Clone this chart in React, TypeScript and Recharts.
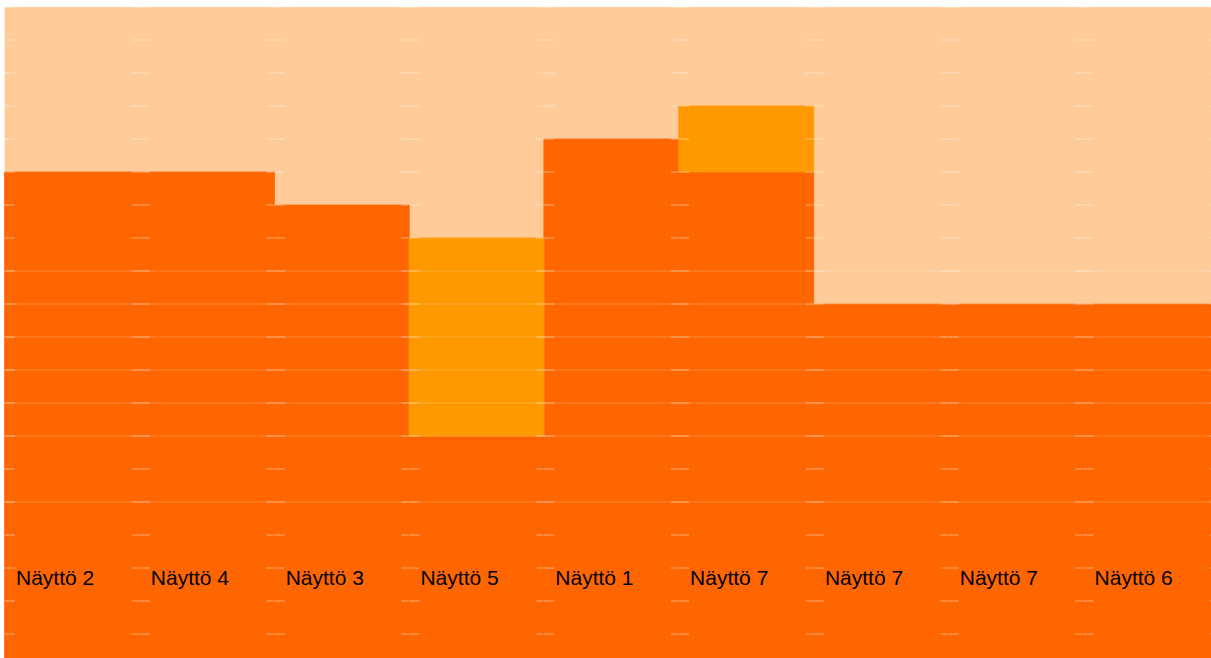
import React from "react";
import { BarChart, Bar, XAxis, YAxis, CartesianGrid, ReferenceLine, LabelList } from "recharts";

const categories = ["Näyttö 2", "Näyttö 4", "Näyttö 3", "Näyttö 5", "Näyttö 1", "Näyttö 7", "Näyttö 7", "Näyttö 7", "Näyttö 6"];
const darkValues = [15, 15, 14, 7, 16, 15, 11, 11, 11];
const lightValues = [0, 0, 0, 6, 0, 2, 0, 0, 0];
const yTicks = [0, 1, 2, 3, 4, 5, 6, 7, 8, 9, 10, 11, 12, 13, 14, 15, 16, 17, 18, 19, 20];
const stripeLevels = [5, 7, 8, 9, 10, 11, 12];

const data = categories.map((name, i) => ({
  key: i,
  name,
  dark: darkValues[i],
  light: lightValues[i],
}));

const NameLabel = (props: any) => {
  const { x, y, height, value } = props;
  return (
    <text
      x={Number(x) + 11.4}
      y={Number(y) + Number(height) - 82}
      fontFamily="'Liberation Sans', Arial, sans-serif"
      fontSize={21}
      fill="#000"
    >
      {value}
    </text>
  );
};

export default function App() {
  return (
    <div style={{ position: "fixed", left: 0, top: 7, width: 1211, height: 651, overflow: "hidden", background: "#fff" }}>
      <BarChart
        width={1218}
        height={660}
        data={data}
        margin={{ top: 0, right: 0, bottom: 0, left: 4.6 }}
        barCategoryGap={0}
        barGap={0}
      >
        <CartesianGrid horizontal={false} vertical={false} fill="#FFCC99" fillOpacity={1} stroke="none" />
        <XAxis dataKey="key" hide />
        <YAxis hide domain={[0, 20]} ticks={yTicks} type="number" allowDataOverflow />
        <Bar dataKey="dark" stackId="a" fill="#FF6600" stroke="#FF6600" strokeWidth={0.8} isAnimationActive={false}>
          <LabelList dataKey="name" content={NameLabel} />
        </Bar>
        <Bar dataKey="light" stackId="a" fill="#FF9900" stroke="#FF9900" strokeWidth={0.8} isAnimationActive={false} />
        {stripeLevels.map((v) => (
          <ReferenceLine key={v} y={v} stroke="#ffffff" strokeOpacity={0.2} strokeWidth={1} zIndex={900} />
        ))}
        <CartesianGrid
          vertical={false}
          stroke="#ffffff"
          strokeOpacity={0.45}
          strokeDasharray="10.5 116.6 7 0.7"
          zIndex={1000}
        />
      </BarChart>
    </div>
  );
}
